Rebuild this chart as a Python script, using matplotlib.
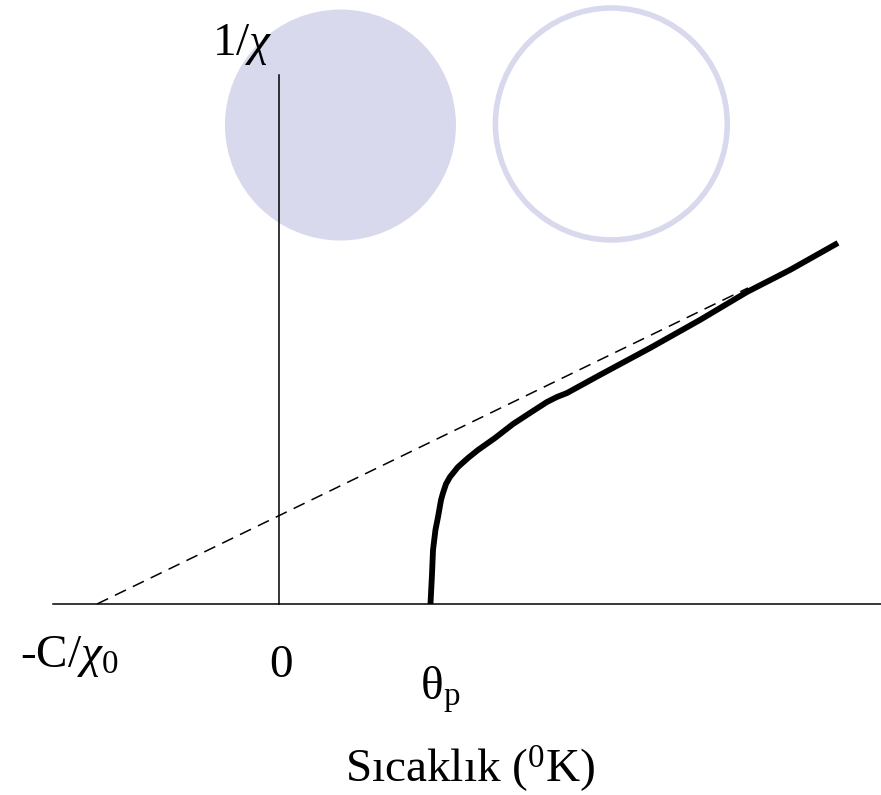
import numpy as np
import matplotlib
matplotlib.use('Agg')
import matplotlib.pyplot as plt
from matplotlib.patches import Circle

plt.rcParams['font.family'] = ['Liberation Serif', 'DejaVu Serif']
plt.rcParams['mathtext.fontset'] = 'custom'
plt.rcParams['mathtext.rm'] = 'Liberation Serif'
plt.rcParams['mathtext.it'] = 'Liberation Serif:italic'

# Birimler: theta_p = 1
theta_p = 1.0
eksen_x0 = 0.0
c_bolu_chi0 = -1.205   # Curie-Weiss dogrusunun T eksenini kestigi nokta

# Kalin egri (olculen 1/chi)
egri_T = [1.003, 1.013, 1.020, 1.036, 1.053, 1.073, 1.086, 1.106, 1.132, 1.185,
          1.252, 1.318, 1.430, 1.550, 1.662, 1.775, 1.841, 1.907, 2.126, 2.457,
          2.788, 3.099, 3.384, 3.702]
egri_y = [0.000, 0.192, 0.358, 0.490, 0.576, 0.689, 0.735, 0.795, 0.841, 0.907,
          0.967, 1.020, 1.099, 1.192, 1.265, 1.338, 1.371, 1.397, 1.517, 1.695,
          1.881, 2.066, 2.212, 2.391]

# Kesikli dogru (Curie-Weiss asimptotu)
dogru_T = [c_bolu_chi0, 3.106]
dogru_y = [0.0, 2.093]

# Eksenler
yatay_T = [-1.497, 3.987]
dikey_y = [0.0, 3.503]

# Dekoratif daireler
daire_dolu = (0.407, 3.172, 0.765)
daire_bos = (2.201, 3.179, 0.768)
daire_renk = '#d9d9ee'

fig = plt.figure(figsize=(8.81, 7.95), dpi=100)
ax = fig.add_axes([0, 0, 1, 1])
ax.set_xlim(-1.848, 3.987)
ax.set_ylim(-1.265, 4.0)
ax.axis('off')

ax.add_patch(Circle(daire_dolu[:2], daire_dolu[2], facecolor=daire_renk, edgecolor='none', zorder=1))
ax.add_patch(Circle(daire_bos[:2], daire_bos[2], facecolor='none', edgecolor=daire_renk, linewidth=4, zorder=1))

ax.plot(yatay_T, [0, 0], color='black', linewidth=1.1, zorder=2)
ax.plot([eksen_x0, eksen_x0], dikey_y, color='black', linewidth=1.1, zorder=2)
ax.plot(dogru_T, dogru_y, color='black', linewidth=1.1, linestyle=(0, (8, 5)), zorder=3)
ax.plot(egri_T, egri_y, color='black', linewidth=4.2, solid_capstyle='butt',
        solid_joinstyle='round', zorder=4)

fs = 34
ax.text(-0.444, 3.636, r'1/$\chi$', fontsize=fs, ha='left', va='baseline')
ax.text(-1.715, -0.417, r'-C/$\chi_0$', fontsize=fs, ha='left', va='baseline')
ax.text(eksen_x0 + 0.01, -0.483, '0', fontsize=fs, ha='center', va='baseline')
ax.text(theta_p - 0.066, -0.636, r'θ$_\mathrm{p}$', fontsize=fs, ha='left', va='baseline')
ax.text(1.265, -1.179, 'Sıcaklık ($^{0}$K)', fontsize=fs, ha='center', va='baseline')

fig.savefig('out.png', dpi=100)
